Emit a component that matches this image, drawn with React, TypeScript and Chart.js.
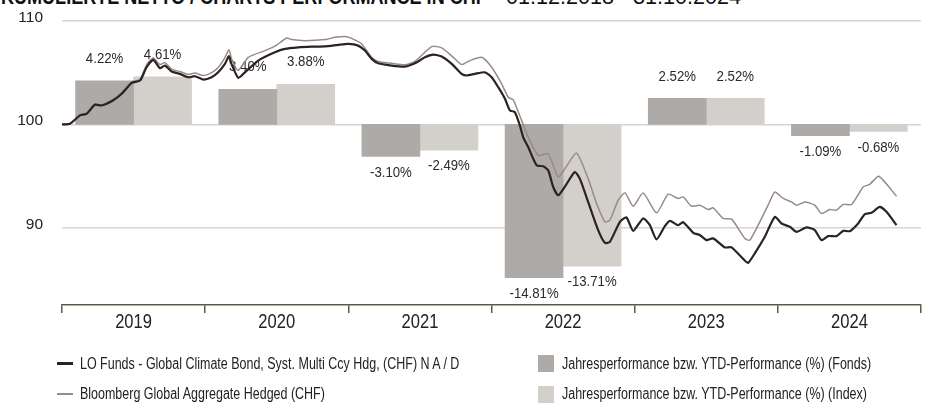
import React, { useEffect, useRef } from "react";
import { Chart, registerables } from "chart.js";

Chart.register(...registerables);

const FONT = "'Liberation Sans', Arial, sans-serif";

const TITLE_BOLD = "KUMULIERTE NETTO / CHARTS PERFORMANCE IN CHF";
const TITLE_DATES = "01.12.2018 - 31.10.2024";

const YEARS = ["2019", "2020", "2021", "2022", "2023", "2024"];
const FUND_YTD = [4.22, 3.4, -3.1, -14.81, 2.52, -1.09];
const INDEX_YTD = [4.61, 3.88, -2.49, -13.71, 2.52, -0.68];
const Y_TICKS = [90, 100, 110];

const FUND_NAME = "LO Funds - Global Climate Bond, Syst. Multi Ccy Hdg, (CHF) N A / D";
const INDEX_NAME = "Bloomberg Global Aggregate Hedged (CHF)";
const FUND_BAR_NAME = "Jahresperformance bzw. YTD-Performance (%) (Fonds)";
const INDEX_BAR_NAME = "Jahresperformance bzw. YTD-Performance (%) (Index)";

// decimal-year dates and cumulative values (start = 100)
const FUND_T = [
  2019.0, 2019.056, 2019.126, 2019.172, 2019.23, 2019.277, 2019.356, 2019.417, 2019.487, 2019.545,
  2019.591, 2019.638, 2019.684, 2019.719, 2019.766, 2019.824, 2019.882, 2019.929, 2019.987, 2020.045,
  2020.091, 2020.138, 2020.166, 2020.18, 2020.231, 2020.278, 2020.371, 2020.487, 2020.557, 2020.65,
  2020.744, 2020.837, 2020.929, 2020.999, 2021.069, 2021.116, 2021.163, 2021.209, 2021.302, 2021.395,
  2021.465, 2021.535, 2021.593, 2021.652, 2021.722, 2021.791, 2021.826, 2021.884, 2021.954, 2022.001,
  2022.047, 2022.094, 2022.128, 2022.163, 2022.198, 2022.221, 2022.256, 2022.315, 2022.361, 2022.396,
  2022.431, 2022.466, 2022.513, 2022.582, 2022.617, 2022.675, 2022.745, 2022.792, 2022.827, 2022.897,
  2022.943, 2022.99, 2023.059, 2023.106, 2023.153, 2023.211, 2023.246, 2023.304, 2023.339, 2023.409,
  2023.455, 2023.502, 2023.548, 2023.63, 2023.677, 2023.77, 2023.793, 2023.839, 2023.909, 2023.979,
  2024.026, 2024.084, 2024.131, 2024.2, 2024.258, 2024.305, 2024.351, 2024.41, 2024.456, 2024.503,
  2024.561, 2024.608, 2024.654, 2024.712, 2024.759, 2024.829,
];
const FUND_V = [
  100.0, 100.07, 100.87, 101.03, 101.9, 101.83, 102.31, 102.96, 104.02, 104.24,
  105.53, 106.24, 105.43, 105.69, 105.11, 104.89, 104.56, 104.66, 104.34, 104.56,
  105.04, 105.85, 106.61, 105.98, 104.5, 105.04, 106.17, 106.97, 107.3, 107.45,
  107.52, 107.55, 107.69, 107.78, 107.62, 107.14, 106.34, 105.91, 105.69, 105.59,
  105.91, 106.49, 106.75, 106.56, 105.85, 104.89, 104.73, 104.89, 105.04, 104.56,
  103.6, 102.48, 101.35, 101.19, 99.9, 98.78, 97.81, 96.05, 95.95, 95.56,
  93.95, 93.15, 93.99, 95.4, 94.76, 92.51, 89.78, 88.55, 88.65, 90.58,
  91.0, 89.71, 90.91, 90.26, 88.88, 90.16, 90.67, 90.26, 90.55, 89.52,
  89.3, 88.81, 88.98, 88.11, 88.11, 86.82, 86.62, 87.53, 89.13, 91.06,
  90.42, 90.1, 89.61, 90.04, 89.78, 88.81, 89.2, 89.2, 89.71, 89.68,
  90.42, 91.32, 91.45, 92.03, 91.55, 90.26,
];

const INDEX_T = [
  2019.0, 2019.056, 2019.126, 2019.172, 2019.23, 2019.277, 2019.356, 2019.417, 2019.487, 2019.545,
  2019.591, 2019.638, 2019.684, 2019.719, 2019.766, 2019.824, 2019.882, 2019.929, 2019.987, 2020.045,
  2020.091, 2020.138, 2020.166, 2020.184, 2020.229, 2020.301, 2020.418, 2020.494, 2020.569, 2020.604,
  2020.697, 2020.837, 2020.906, 2020.976, 2021.023, 2021.093, 2021.163, 2021.209, 2021.302, 2021.395,
  2021.465, 2021.582, 2021.652, 2021.733, 2021.791, 2021.849, 2021.931, 2022.001, 2022.071, 2022.117,
  2022.152, 2022.21, 2022.256, 2022.326, 2022.396, 2022.466, 2022.513, 2022.594, 2022.675, 2022.734,
  2022.792, 2022.827, 2022.885, 2022.932, 2022.99, 2023.059, 2023.153, 2023.234, 2023.304, 2023.339,
  2023.397, 2023.455, 2023.513, 2023.548, 2023.618, 2023.677, 2023.77, 2023.804, 2023.874, 2023.932,
  2023.979, 2024.037, 2024.096, 2024.131, 2024.189, 2024.258, 2024.305, 2024.363, 2024.41, 2024.456,
  2024.515, 2024.596, 2024.642, 2024.705, 2024.829,
];
const INDEX_V = [
  100.0, 100.1, 100.92, 101.11, 101.98, 101.88, 102.41, 103.09, 104.1, 104.34,
  105.79, 106.43, 105.79, 105.98, 105.35, 105.11, 104.82, 104.97, 104.72, 105.01,
  105.5, 106.46, 107.23, 106.36, 105.21, 106.49, 107.14, 107.62, 108.36, 108.2,
  108.1, 108.2, 108.42, 108.51, 108.32, 107.78, 106.49, 106.08, 105.91, 105.76,
  106.1, 107.52, 107.4, 106.49, 105.79, 106.17, 106.49, 105.53, 103.92, 102.63,
  102.38, 100.39, 98.78, 97.01, 97.17, 94.92, 95.73, 97.23, 94.76, 92.35,
  90.58, 90.74, 92.67, 93.38, 92.09, 93.38, 91.45, 93.25, 92.84, 92.99,
  92.09, 92.19, 91.77, 91.93, 90.91, 90.84, 88.97, 88.81, 90.58, 92.19,
  93.47, 92.84, 92.51, 92.19, 92.51, 92.19, 91.39, 91.77, 91.71, 92.26,
  92.26, 93.95, 94.21, 94.99, 93.06,
];

const FUND_LINE_COLOR = "#2b2222";
const INDEX_LINE_COLOR = "#978b84";
const FUND_BAR_COLOR = "#aeaaa8";
const INDEX_BAR_COLOR = "#d3cfcb";
const AXIS_COLOR = "#5a5a48";
const GRID_COLOR = "#d6d6d6";
const TEXT_COLOR = "#222222";

const BASE = 100;

function drawScaledText(ctx: any, txt: string, x: number, y: number, sx: number, align: string) {
  ctx.save();
  ctx.translate(x, y);
  ctx.scale(sx, 1);
  ctx.textAlign = align;
  ctx.fillText(txt, 0, 0);
  ctx.restore();
}

const textPlugin = {
  id: "chartTexts",
  beforeDatasetsDraw(chart: any) {
    const ctx = chart.ctx;
    const yScale = chart.scales.y;
    const xScale = chart.scales.x;
    ctx.save();
    ctx.textBaseline = "middle";
    ctx.fillStyle = "#2a2a2a";
    ctx.font = `15px ${FONT}`;
    const sets: [number, number[]][] = [
      [2, FUND_YTD],
      [3, INDEX_YTD],
    ];
    sets.forEach(([di, vals]) => {
      const meta = chart.getDatasetMeta(di);
      meta.data.forEach((el: any, i: number) => {
        const v = vals[i];
        const end = yScale.getPixelForValue(BASE + v);
        const y = v >= 0 ? end - 22 : end + 16;
        drawScaledText(ctx, `${v.toFixed(2)}%`, el.x, y, 0.88, "center");
      });
    });
    // y axis labels
    ctx.fillStyle = TEXT_COLOR;
    ctx.font = `15.5px ${FONT}`;
    Y_TICKS.forEach((v) => {
      drawScaledText(ctx, String(v), 43, yScale.getPixelForValue(v) - 3.5, 1, "right");
    });
    // year labels
    ctx.font = `19.5px ${FONT}`;
    YEARS.forEach((yr, i) => {
      drawScaledText(ctx, yr, xScale.getPixelForValue(i), 323, 0.85, "center");
    });
    ctx.restore();
  },
};

function ChartCanvas() {
  const ref = useRef<HTMLCanvasElement | null>(null);
  useEffect(() => {
    if (!ref.current) return;
    const chart = new Chart(ref.current, {
      type: "bar",
      data: {
        labels: YEARS,
        datasets: [
          {
            type: "line",
            label: FUND_NAME,
            data: FUND_T.map((t, i) => ({ x: t, y: FUND_V[i] })),
            xAxisID: "x2",
            borderColor: FUND_LINE_COLOR,
            borderWidth: 2.2,
            pointRadius: 0,
            tension: 0.2,
            order: 0,
          } as any,
          {
            type: "line",
            label: INDEX_NAME,
            data: INDEX_T.map((t, i) => ({ x: t, y: INDEX_V[i] })),
            xAxisID: "x2",
            borderColor: INDEX_LINE_COLOR,
            borderWidth: 1.5,
            pointRadius: 0,
            tension: 0.2,
            order: 1,
          } as any,
          {
            type: "bar",
            label: FUND_BAR_NAME,
            data: FUND_YTD.map((v) => [BASE, BASE + v]),
            xAxisID: "x",
            backgroundColor: FUND_BAR_COLOR,
            borderWidth: 0,
            barThickness: 58,
            order: 2,
          } as any,
          {
            type: "bar",
            label: INDEX_BAR_NAME,
            data: INDEX_YTD.map((v) => [BASE, BASE + v]),
            xAxisID: "x",
            backgroundColor: INDEX_BAR_COLOR,
            borderWidth: 0,
            barThickness: 58,
            order: 2,
          } as any,
        ],
      },
      options: {
        responsive: false,
        animation: false,
        events: [],
        layout: { padding: { top: 21, right: 7, left: 0, bottom: 0 } },
        plugins: {
          legend: { display: false },
          tooltip: { enabled: false },
          title: { display: false },
        },
        scales: {
          x: {
            type: "category",
            offset: true,
            grid: {
              offset: true,
              drawOnChartArea: false,
              drawTicks: true,
              tickLength: 8,
              color: AXIS_COLOR,
              lineWidth: 1.5,
            },
            border: { display: true, color: AXIS_COLOR, width: 1.5 },
            ticks: { display: false },
            afterFit: (s: any) => {
              s.height = 98;
            },
          },
          x2: {
            type: "linear",
            display: false,
            offset: false,
            min: 2019,
            max: 2025,
            grid: { offset: false },
          },
          y: {
            type: "linear",
            min: 82.54,
            max: 110,
            afterBuildTicks: (s: any) => {
              s.ticks = Y_TICKS.map((v) => ({ value: v }));
            },
            afterFit: (s: any) => {
              s.width = 62;
            },
            grid: { color: GRID_COLOR, lineWidth: 1.5, drawTicks: false },
            border: { display: false },
            ticks: { display: false },
          },
        },
      } as any,
      plugins: [textPlugin],
    });
    return () => chart.destroy();
  }, []);
  return (
    <canvas
      ref={ref}
      width={928}
      height={403}
      style={{ position: "absolute", left: 0, top: 0, width: 928, height: 403 }}
    />
  );
}

const legendText: React.CSSProperties = {
  position: "absolute",
  fontFamily: FONT,
  fontSize: 16,
  color: TEXT_COLOR,
  lineHeight: "18px",
  whiteSpace: "nowrap",
  transform: "scaleX(0.78)",
  transformOrigin: "0 0",
};

const titleText: React.CSSProperties = {
  position: "absolute",
  top: -14,
  fontFamily: FONT,
  fontSize: 22,
  lineHeight: "22px",
  color: "#111",
  whiteSpace: "nowrap",
  transformOrigin: "0 0",
};

export default function App() {
  return (
    <div
      style={{
        position: "fixed",
        left: 0,
        top: 0,
        width: 928,
        height: 403,
        overflow: "hidden",
        background: "#ffffff",
      }}
    >
      <div style={{ ...titleText, left: 1, fontWeight: 700, transform: "scaleX(0.82)" }}>{TITLE_BOLD}</div>
      <div style={{ ...titleText, left: 506, transform: "scaleX(0.98)" }}>{TITLE_DATES}</div>
      <ChartCanvas />
      {/* legend */}
      <div style={{ position: "absolute", left: 57, top: 362, width: 16, height: 3, background: FUND_LINE_COLOR }} />
      <div style={{ ...legendText, left: 80, top: 355 }}>{FUND_NAME}</div>
      <div style={{ position: "absolute", left: 57, top: 393, width: 16, height: 2, background: INDEX_LINE_COLOR }} />
      <div style={{ ...legendText, left: 80, top: 385 }}>{INDEX_NAME}</div>
      <div style={{ position: "absolute", left: 538, top: 355, width: 16, height: 17, background: FUND_BAR_COLOR }} />
      <div style={{ ...legendText, left: 562, top: 355 }}>{FUND_BAR_NAME}</div>
      <div style={{ position: "absolute", left: 538, top: 386, width: 16, height: 17, background: INDEX_BAR_COLOR }} />
      <div style={{ ...legendText, left: 562, top: 385 }}>{INDEX_BAR_NAME}</div>
    </div>
  );
}
